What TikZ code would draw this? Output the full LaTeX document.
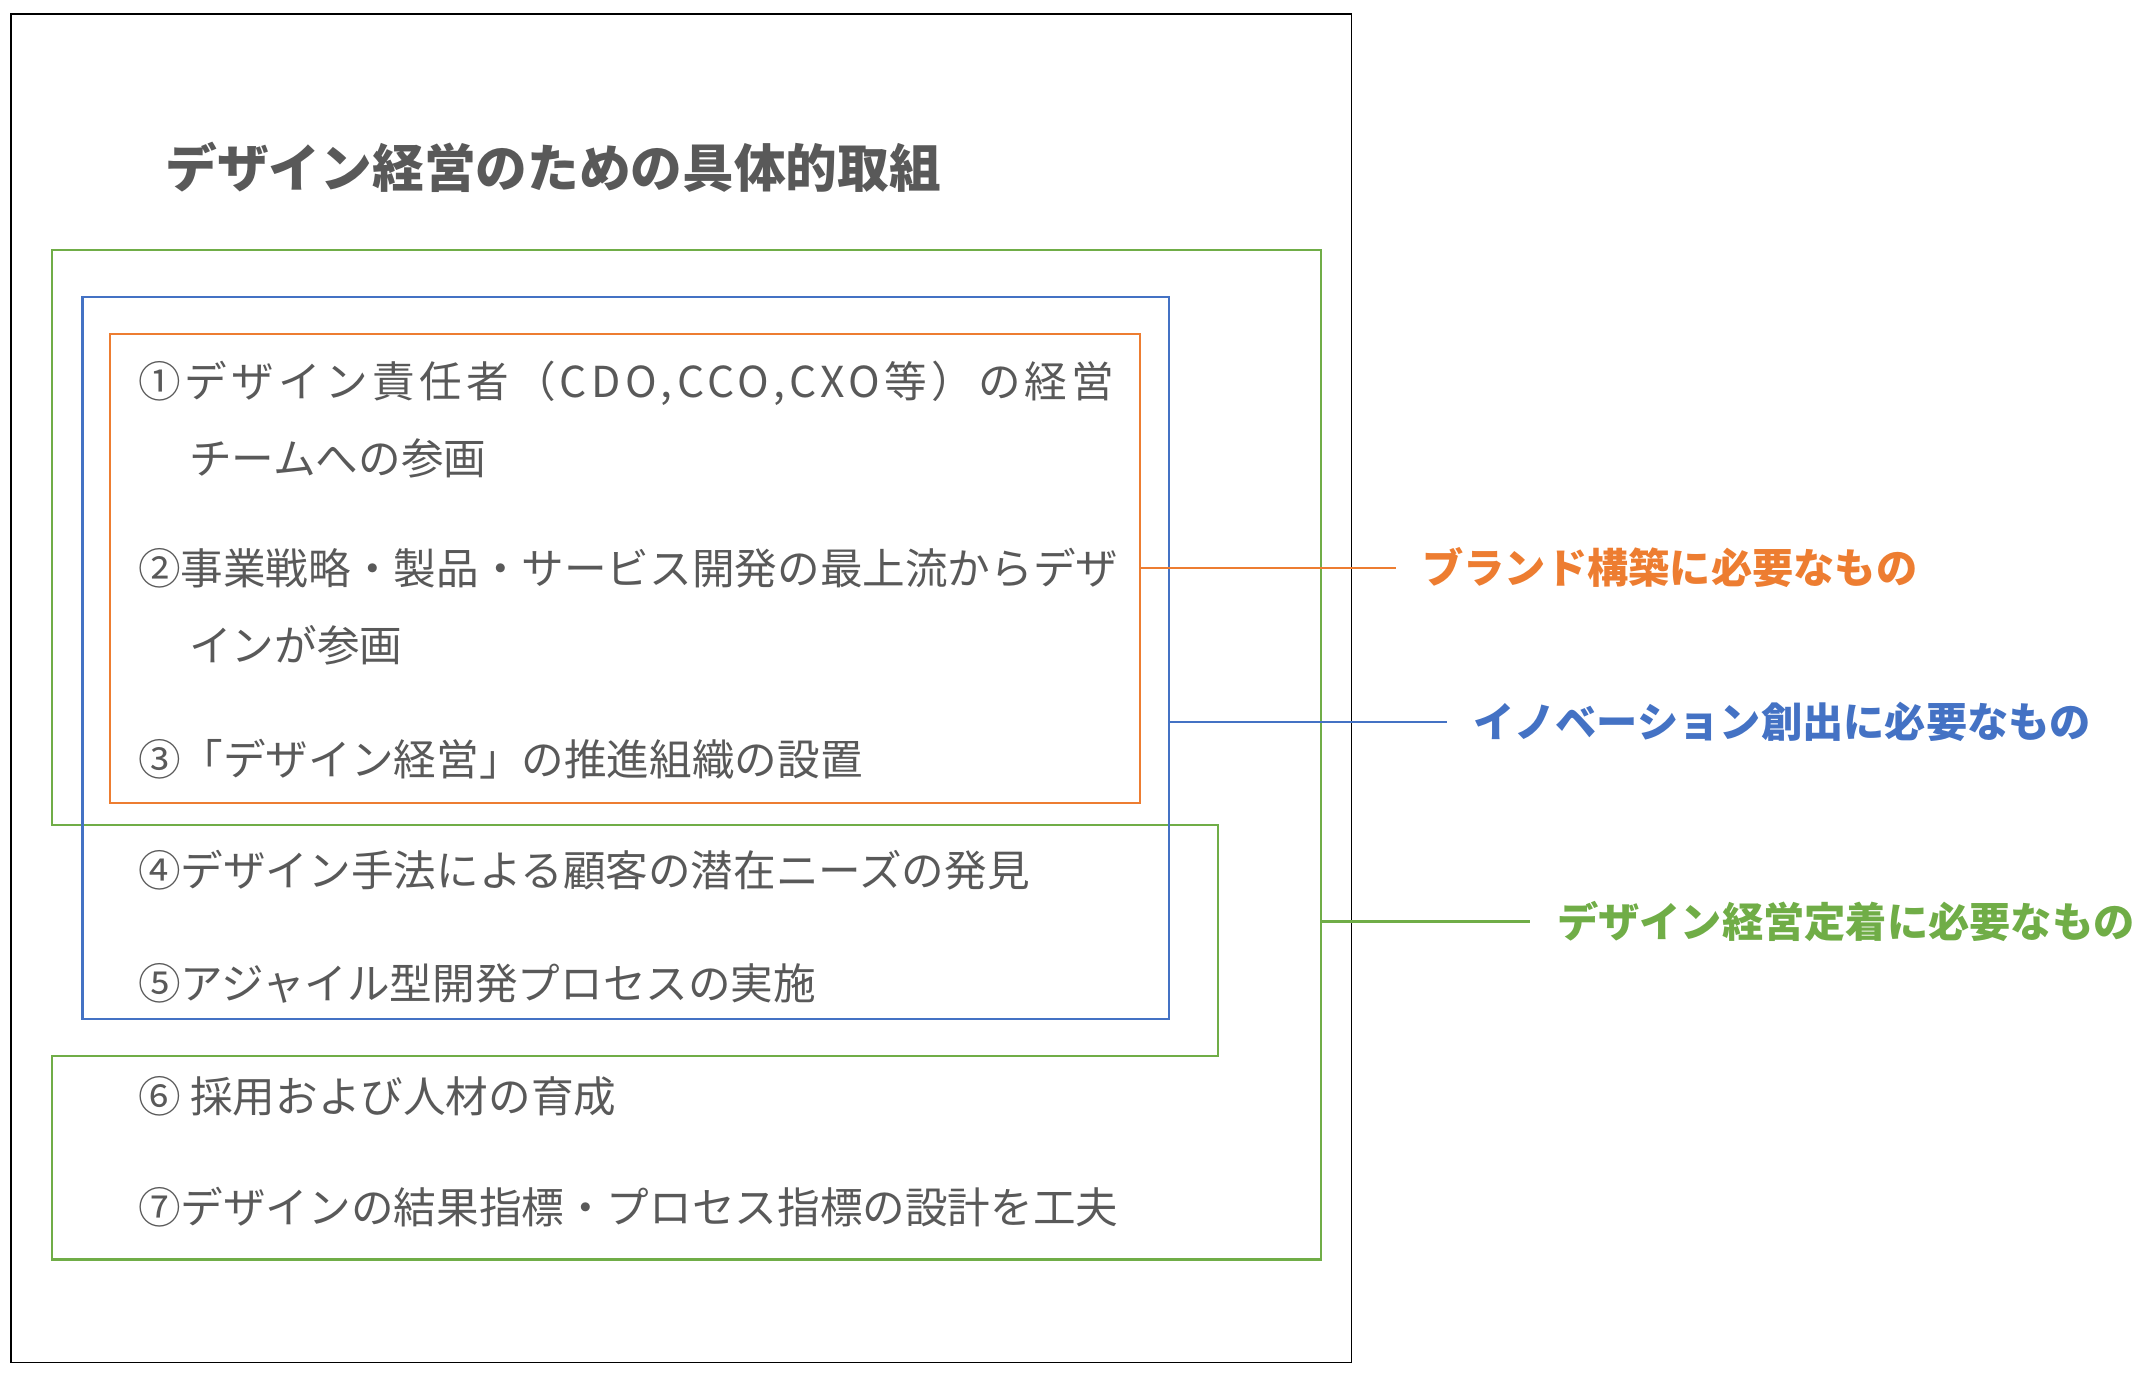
\documentclass[tikz,border=0pt]{standalone}
\usepackage{fontspec}
\usepackage{xcolor}
\usetikzlibrary{fit}
\newfontfamily\jpfont{Noto Sans CJK JP}
\definecolor{txtgray}{HTML}{595959}
\definecolor{brandorange}{HTML}{ED7D31}
\definecolor{innoblue}{HTML}{4472C4}
\definecolor{teigreen}{HTML}{70AD47}

\begin{document}
\begin{tikzpicture}[x=0.5pt,y=-0.5pt,
  item/.style={anchor=west, inner sep=0pt, align=left, text=txtgray, font=\jpfont\fontsize{15.5}{28}\selectfont},
  grouplabel/.style={anchor=west, inner xsep=9.5pt, inner ysep=0pt, font=\jpfont\bfseries\fontsize{15}{18}\selectfont},
  groupbox/.style={draw, line width=0.75pt, inner sep=0pt},
  link/.style={line width=1pt}]
\useasboundingbox (0,0) rectangle (1568,1001);
\draw[line width=0.6pt] (8,10) rectangle (983,991);

% title
\node[anchor=west, inner sep=0pt, text=txtgray, font=\jpfont\bfseries\fontsize{18.8}{22}\selectfont] (title) at (120,122) {デザイン経営のための具体的取組};

% green group outline
\draw[teigreen, line width=0.75pt] (38,600) -- (38,182) -- (961,182) -- (961,916) -- (38,916) -- (38,768) -- (886,768) -- (886,600) -- cycle;
\coordinate (teiE) at (961,670);

% blue and orange groups
\node[groupbox, draw=innoblue, fit={(60,216) (850,741)}] (innobox) {};
\node[groupbox, draw=brandorange, fit={(80,243) (829,584)}] (brandbox) {};

% items
\node[item] (it1) at (100,305) {{\addfontfeatures{LetterSpace=10}①デザイン責任者（CDO,CCO,CXO等）の経営}\\\hspace{1.2em}チームへの参画};
\node[item] (it2) at (100,441) {②事業戦略・製品・サービス開発の最上流からデザ\\\hspace{1.2em}インが参画};
\node[item] (it3) at (100,552) {③「デザイン経営」の推進組織の設置};
\node[item] (it4) at (100,633) {④デザイン手法による顧客の潜在ニーズの発見};
\node[item] (it5) at (100,715) {⑤アジャイル型開発プロセスの実施};
\node[item] (it6) at (100,797) {⑥ 採用および人材の育成};
\node[item] (it7) at (100,878) {⑦デザインの結果指標・プロセス指標の設計を工夫};

% labels
\node[grouplabel, text=brandorange] (brandlabel) at (1015,413) {ブランド構築に必要なもの};
\node[grouplabel, text=innoblue] (innolabel) at (1052,525) {イノベーション創出に必要なもの};
\node[grouplabel, text=teigreen] (teilabel) at (1113,670) {デザイン経営定着に必要なもの};

\draw[link, brandorange] (brandbox.east |- brandlabel.west) -- (brandlabel.west);
\draw[link, innoblue] (innobox.east |- innolabel.west) -- (innolabel.west);
\draw[link, teigreen] (teiE) -- (teilabel.west);
\end{tikzpicture}
\end{document}
